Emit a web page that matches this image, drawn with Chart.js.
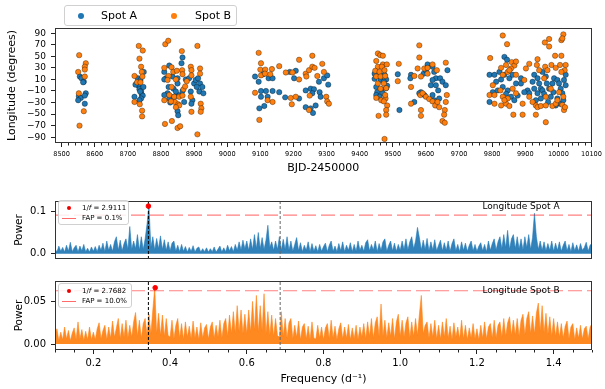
<!DOCTYPE html>
<html>
<head>
<meta charset="utf-8">
<script src="https://cdn.jsdelivr.net/npm/chart.js@4.4.1/dist/chart.umd.min.js"></script>
<style>
  body { margin: 0; background: #fff; font-family: 'DejaVu Sans', sans-serif; }
  #wrap { position: relative; width: 605px; height: 389px; overflow: hidden; }
  .panel { position: absolute; left: 0; width: 605px; }
  .leg { position: absolute; border: 1px solid #d0d0d0; border-radius: 3px; background: rgba(255,255,255,0.85); box-sizing: border-box; }
  .dot { position: absolute; border-radius: 50%; box-sizing: border-box; }
  .txt { position: absolute; white-space: nowrap; color: #000; }
  .lbl { position: absolute; white-space: nowrap; font-size: 9px; color: #000; }
  .seg { position: absolute; height: 0; border-top: 1.2px solid #ff6a6a; }
</style>
</head>
<body>
<div id="wrap">
  <div class="panel" style="top:0;height:179px;"><canvas id="lonChart"></canvas></div>
  <div class="panel" style="top:190px;height:80px;"><canvas id="powA"></canvas></div>
  <div class="panel" style="top:270px;height:119px;"><canvas id="powB"></canvas></div>

  <div class="leg" style="left:64px;top:5px;width:173px;height:21px;">
    <span class="dot" style="left:13px;top:7px;width:6px;height:6px;background:#1f77b4;"></span>
    <span class="txt" style="left:36px;top:0;line-height:19px;font-size:11px;">Spot A</span>
    <span class="dot" style="left:106px;top:7px;width:6px;height:6px;background:#ff7f0e;"></span>
    <span class="txt" style="left:130px;top:0;line-height:19px;font-size:11px;">Spot B</span>
  </div>

  <div class="leg" style="left:58px;top:200px;width:71px;height:25px;">
    <span class="dot" style="left:8px;top:5px;width:4px;height:4px;background:#e00;"></span>
    <span class="txt" style="left:23px;top:2px;line-height:11px;font-size:7px;">1/<i>f</i> = 2.9111</span>
    <span class="seg" style="left:3px;top:17px;width:14px;"></span>
    <span class="txt" style="left:23px;top:12px;line-height:11px;font-size:7px;">FAP = 0.1%</span>
  </div>
  <div class="leg" style="left:58px;top:283px;width:74px;height:25px;">
    <span class="dot" style="left:8px;top:5px;width:4px;height:4px;background:#e00;"></span>
    <span class="txt" style="left:23px;top:2px;line-height:11px;font-size:7px;">1/<i>f</i> = 2.7682</span>
    <span class="seg" style="left:3px;top:17px;width:14px;"></span>
    <span class="txt" style="left:23px;top:12px;line-height:11px;font-size:7px;">FAP = 10.0%</span>
  </div>

  <div class="lbl" style="left:478px;top:200px;width:86px;text-align:center;line-height:12px;">Longitude Spot A</div>
  <div class="lbl" style="left:478px;top:284px;width:86px;text-align:center;line-height:12px;">Longitude Spot B</div>
</div>

<script>
// ---- spot longitudes (BJD-2450000, degrees) ----
const spotA = [
  [8555,15],[8560,12],[8567,6],[8565,5],[8552,-19],[8558,-22],[8573,-14],[8570,-18],[8570,-32],[8550,-26],
  [8730,12],[8738,9],[8727,3],[8732,-1],[8735,-7],[8723,1],[8740,-10],[8742,-16],[8745,-18],[8740,-23],
  [8735,-26],[8720,-20],[8748,23],[8747,-3],[8737,-11],
  [8865,48],[8862,38],[8825,34],[8810,23],[8815,12],[8810,10],[8835,15],[8850,12],[8850,3],[8875,10],
  [8885,12],[8823,-3],[8838,-6],[8820,-14],[8810,-17],[8825,-23],[8853,-17],[8865,-10],[8895,-26],[8890,-11],
  [8850,-45],[8852,-52],[8900,3],[8905,9],[8912,12],[8918,3],[8908,-3],[8916,-11],[8925,-3],[8928,-14],
  [8845,-11],[8840,-20],[8870,-29],[8892,-32],[8828,-30],
  [9084,15],[9095,6],[9109,19],[9125,12],[9137,12],[9102,-10],[9117,-10],[9137,-10],[9157,-12],[9102,-20],
  [9122,-20],[9112,-36],[9097,-40],[9175,-21],[9207,25],[9189,23],[9202,12],[9217,-23],[9237,-9],[9252,-6],
  [9262,-7],[9257,-14],[9277,6],[9292,12],[9302,17],[9305,1],[9279,-12],[9282,-20],[9237,-38],[9252,-40],
  [9259,-48],[9267,-35],
  [9445,20],[9460,19],[9475,18],[9445,11],[9463,9],[9480,10],[9450,-3],[9465,-7],[9480,-5],[9453,-12],
  [9470,-14],[9450,-17],[9460,-20],[9483,-1],[9515,19],[9520,-43],[9473,6],
  [9605,36],[9620,32],[9555,18],[9553,12],[9593,20],[9600,26],[9625,23],[9630,12],[9620,9],[9643,12],
  [9650,6],[9660,0],[9665,26],[9615,0],[9630,0],[9637,-9],[9585,-12],[9595,-17],[9620,-17],[9565,-29],
  [9625,-26],[9640,-23],[9580,-14],
  [9837,49],[9845,44],[9792,18],[9807,18],[9822,23],[9837,18],[9852,12],[9862,18],[9872,3],[9802,-12],
  [9817,-9],[9832,-3],[9847,-9],[9857,-20],[9867,-26],[9792,-29],[9887,12],[9887,3],[9907,-9],[9912,-14],
  [9927,18],[9937,12],[9942,3],[9947,-6],[9937,-14],[9947,-23],[9932,-26],[9952,23],[9962,15],[9965,3],
  [9972,-6],[9977,-20],[9969,-29],[9987,12],[9997,9],[10002,3],[10007,-6],[10012,-14],[10017,9],[10022,0],
  [9997,-23],[10005,-32],[9992,-35],[9982,3],[9927,-6],[9897,-12],[9952,-9],[10022,18],
  [9812,6],[9842,-15],[9877,-18],[9922,6],[9957,-15],[9985,-12],[10015,-26],[9827,10]
];
const spotB = [
  [8553,52],[8573,38],[8570,32],[8570,27],[8550,23],[8570,15],[8552,-14],[8567,-45],[8554,-70],
  [8733,68],[8745,60],[8735,46],[8740,32],[8742,23],[8720,16],[8744,15],[8728,5],[8738,5],[8720,-29],
  [8736,-33],[8743,-44],[8743,-54],
  [8813,71],[8822,77],[8863,59],[8910,68],[8810,30],[8832,31],[8837,23],[8848,25],[8864,26],[8890,32],
  [8892,26],[8918,29],[8918,20],[8823,16],[8865,19],[8892,17],[8820,9],[8845,10],[8832,-3],[8868,-7],
  [8825,-17],[8840,-20],[8855,-20],[8865,-18],[8842,-29],[8810,-26],[8830,-28],[8852,-33],[8890,-20],[8920,-32],
  [8922,-40],[8892,-46],[8920,-46],[8812,-67],[8833,-62],[8850,-74],[8855,-35],[8910,-85],[8845,-38],[8858,-71],
  [8873,-2],[8878,7],
  [9095,56],[9102,38],[9100,27],[9115,27],[9135,28],[9157,33],[9102,17],[9114,20],[9130,19],[9177,22],
  [9197,22],[9217,44],[9217,10],[9237,20],[9247,26],[9257,51],[9257,32],[9264,30],[9272,16],[9287,37],
  [9292,23],[9239,15],[9084,-13],[9122,-26],[9137,-29],[9192,-22],[9207,-20],[9195,-33],[9249,-18],[9247,-43],
  [9299,-20],[9302,-28],[9307,-32],[9097,-60],
  [9455,55],[9462,52],[9470,51],[9450,42],[9470,36],[9482,36],[9455,32],[9467,32],[9447,25],[9460,23],
  [9475,26],[9450,15],[9463,15],[9477,16],[9455,3],[9473,3],[9463,-6],[9480,-5],[9450,-22],[9465,-26],
  [9478,-23],[9483,-35],[9480,-43],[9480,-51],[9457,-53],[9473,-28],[9518,37],[9515,7],[9475,-93],[9477,-17],
  [9580,69],[9580,48],[9595,29],[9605,30],[9620,36],[9633,26],[9660,39],[9575,29],[9585,15],[9605,20],
  [9565,16],[9555,-3],[9555,-32],[9583,-17],[9590,-14],[9600,-20],[9585,-43],[9585,-53],[9610,-24],[9620,-28],
  [9628,-35],[9635,-29],[9640,-38],[9663,-17],[9660,-29],[9657,-43],[9655,-51],[9650,-62],[9657,-65],
  [9832,86],[9845,71],[9959,74],[9972,80],[9972,67],[10009,78],[10015,88],[10012,81],[9794,47],[9937,45],
  [9990,51],[10009,51],[9827,30],[9842,35],[9859,40],[9867,34],[9872,41],[9847,23],[9857,29],[9872,18],
  [9832,18],[9902,29],[9912,37],[9935,35],[9942,26],[9960,32],[9979,35],[9992,30],[10005,35],[10022,35],
  [10019,26],[10009,23],[9897,9],[9957,12],[9802,0],[9792,-17],[9807,-17],[9825,-9],[9832,-20],[9847,-23],
  [9862,-6],[9872,-14],[9827,-35],[9842,-32],[9852,-36],[9892,-32],[9912,-20],[9932,-35],[9937,-38],[9947,-36],
  [9962,-35],[9962,-20],[9982,-36],[9992,-32],[10012,-34],[10017,-43],[10015,-20],[10002,-12],[9864,-51],[9892,-51],
  [9932,-51],[9962,-64],[9807,-32],[9977,-6],
  [9852,26],[9837,-26],[9967,26],[9997,-26],[9922,-29],[10020,-38]
];
const lonTicks = [-90, -70, -50, -30, -10, 10, 30, 50, 70, 90];
const bjdTicks = [8500, 8600, 8700, 8800, 8900, 9000, 9100, 9200, 9300, 9400, 9500, 9600, 9700, 9800, 9900, 10000, 10100];

// ---- periodograms, sampled every 0.005 d^-1 from 0.1 ----
const freqStart = 0.1;
const freqStep = 0.005;
const powerA = [
  0.012,0.004,0.018,0.006,0.015,0.004,0.020,0.006,0.027,0.005,0.014,0.020,0.004,0.018,0.007,0.022,0.005,0.013,0.004,0.016,
  0.006,0.017,0.005,0.020,0.008,0.025,0.005,0.030,0.008,0.022,0.006,0.028,0.040,0.008,0.032,0.007,0.024,0.035,0.010,0.064,
  0.010,0.030,0.012,0.045,0.008,0.040,0.010,0.035,0.070,0.112,0.015,0.040,0.009,0.036,0.012,0.042,0.010,0.033,0.008,0.028,
  0.007,0.025,0.030,0.006,0.020,0.005,0.022,0.006,0.017,0.004,0.015,0.006,0.019,0.004,0.013,0.016,0.004,0.012,0.005,0.014,
  0.004,0.012,0.005,0.016,0.004,0.011,0.018,0.004,0.014,0.005,0.020,0.007,0.017,0.005,0.022,0.008,0.028,0.009,0.032,0.012,
  0.030,0.008,0.035,0.010,0.045,0.012,0.050,0.012,0.038,0.010,0.032,0.067,0.015,0.028,0.008,0.030,0.010,0.040,0.008,0.034,
  0.010,0.040,0.008,0.030,0.006,0.022,0.038,0.007,0.026,0.005,0.020,0.008,0.028,0.005,0.024,0.006,0.019,0.005,0.022,0.006,
  0.017,0.025,0.005,0.020,0.030,0.006,0.018,0.005,0.024,0.007,0.028,0.005,0.020,0.008,0.026,0.005,0.022,0.006,0.030,0.008,
  0.020,0.006,0.026,0.033,0.007,0.022,0.009,0.030,0.005,0.024,0.008,0.028,0.035,0.006,0.020,0.030,0.007,0.025,0.006,0.022,
  0.008,0.030,0.010,0.035,0.009,0.028,0.040,0.012,0.030,0.062,0.038,0.009,0.032,0.010,0.036,0.007,0.028,0.009,0.033,0.007,
  0.020,0.032,0.007,0.026,0.008,0.030,0.006,0.024,0.035,0.007,0.022,0.005,0.028,0.008,0.025,0.006,0.020,0.030,0.007,0.022,
  0.006,0.018,0.026,0.007,0.022,0.005,0.030,0.008,0.024,0.035,0.009,0.028,0.040,0.012,0.045,0.014,0.055,0.010,0.035,0.045,
  0.012,0.040,0.011,0.035,0.009,0.040,0.014,0.045,0.010,0.038,0.095,0.040,0.010,0.030,0.008,0.028,0.007,0.024,0.008,0.030,
  0.006,0.025,0.008,0.028,0.006,0.020,0.030,0.007,0.022,0.005,0.026,0.007,0.021,0.006,0.024,0.008,0.015,0.027,0.006,0.020,
  0.025
];
const powerB = [
  0.010,0.018,0.004,0.014,0.005,0.020,0.006,0.016,0.004,0.013,0.019,0.005,0.026,0.006,0.017,0.004,0.015,0.005,0.020,0.005,
  0.014,0.005,0.018,0.025,0.006,0.016,0.022,0.005,0.020,0.007,0.027,0.008,0.019,0.030,0.006,0.024,0.008,0.028,0.007,0.022,
  0.008,0.026,0.037,0.009,0.028,0.007,0.024,0.030,0.010,0.035,0.012,0.040,0.066,0.012,0.036,0.010,0.034,0.009,0.030,0.010,
  0.008,0.028,0.006,0.022,0.030,0.007,0.024,0.005,0.026,0.008,0.021,0.006,0.027,0.007,0.020,0.005,0.025,0.007,0.019,0.023,
  0.006,0.020,0.026,0.007,0.022,0.008,0.028,0.007,0.024,0.030,0.009,0.034,0.012,0.038,0.012,0.045,0.014,0.040,0.012,0.035,
  0.012,0.040,0.014,0.050,0.016,0.057,0.014,0.045,0.015,0.059,0.012,0.038,0.010,0.034,0.009,0.030,0.010,0.008,0.038,0.009,
  0.030,0.007,0.025,0.030,0.006,0.022,0.008,0.027,0.005,0.020,0.024,0.006,0.021,0.005,0.026,0.007,0.006,0.022,0.007,0.020,
  0.005,0.019,0.024,0.006,0.028,0.007,0.021,0.005,0.018,0.025,0.006,0.020,0.007,0.023,0.005,0.019,0.006,0.022,0.005,0.020,
  0.008,0.024,0.006,0.026,0.009,0.030,0.007,0.025,0.032,0.008,0.047,0.009,0.028,0.007,0.025,0.009,0.030,0.006,0.026,0.035,
  0.009,0.028,0.008,0.025,0.032,0.007,0.026,0.009,0.030,0.010,0.035,0.057,0.012,0.022,0.026,0.007,0.024,0.008,0.028,0.006,
  0.022,0.006,0.026,0.008,0.030,0.007,0.021,0.005,0.025,0.008,0.020,0.006,0.028,0.006,0.022,0.005,0.019,0.007,0.024,0.006,
  0.018,0.005,0.022,0.007,0.026,0.006,0.020,0.024,0.007,0.028,0.007,0.022,0.026,0.008,0.030,0.009,0.025,0.032,0.010,0.028,
  0.010,0.030,0.009,0.028,0.035,0.011,0.030,0.038,0.012,0.033,0.012,0.036,0.048,0.015,0.045,0.013,0.036,0.011,0.032,0.009,
  0.030,0.009,0.026,0.008,0.024,0.007,0.021,0.027,0.006,0.020,0.024,0.005,0.019,0.007,0.022,0.006,0.018,0.021,0.006,0.020,
  0.024
];
const fapA = 0.091;
const fapB = 0.0625;
const peakA = [0.3435, 0.112];
const peakB = [0.3612, 0.066];
const harmonics = [0.3435, 0.687];
const freqTicks = [0.2, 0.4, 0.6, 0.8, 1.0, 1.2, 1.4];

Chart.defaults.font.family = "'DejaVu Sans', sans-serif";
Chart.defaults.color = '#000';
Chart.defaults.animation = false;

// frame on all four sides plus short minor ticks, like matplotlib spines
const framePlugin = {
  id: 'frame',
  afterDatasetsDraw(chart, args, opts) {
    const a = chart.chartArea, ctx = chart.ctx;
    ctx.save();
    ctx.strokeStyle = '#333';
    ctx.lineWidth = 1;
    ctx.strokeRect(Math.round(a.left) + 0.5, Math.round(a.top) + 0.5,
      Math.round(a.right - a.left) - 1, Math.round(a.bottom - a.top) - 1);
    ctx.strokeStyle = '#222';
    (opts.minorX || []).forEach(v => {
      const x = Math.round(chart.scales.x.getPixelForValue(v)) + 0.5;
      ctx.beginPath(); ctx.moveTo(x, a.bottom); ctx.lineTo(x, a.bottom + 2.5); ctx.stroke();
    });
    ctx.restore();
  }
};

function tickGrid() {
  return { drawOnChartArea: false, drawTicks: true, tickLength: 4, color: '#222' };
}
function minus(v) {
  return v < 0 ? '\u2212' + Math.abs(v) : String(v);
}

// top panel: longitude vs time
const bjdMinor = [];
for (let v = 8500; v < 10100; v += 20) if (v % 100 !== 0) bjdMinor.push(v);

new Chart(document.getElementById('lonChart'), {
  type: 'scatter',
  data: {
    datasets: [
      { label: 'Spot B', data: spotB.map(p => ({ x: p[0], y: p[1] })), order: 0,
        backgroundColor: '#ff7f0e', borderColor: 'rgba(0,0,0,0.55)', borderWidth: 0.6, pointRadius: 2.7 },
      { label: 'Spot A', data: spotA.map(p => ({ x: p[0], y: p[1] })), order: 1,
        backgroundColor: '#1f77b4', borderColor: 'rgba(0,0,0,0.55)', borderWidth: 0.6, pointRadius: 2.7 }
    ]
  },
  options: {
    responsive: true, maintainAspectRatio: false, devicePixelRatio: 1,
    layout: { padding: { top: 28, right: 13, left: 0, bottom: 0 } },
    plugins: { legend: { display: false }, tooltip: { enabled: false }, frame: { minorX: bjdMinor } },
    scales: {
      x: {
        type: 'linear', min: 8480, max: 10100,
        afterBuildTicks: s => { s.ticks = bjdTicks.map(v => ({ value: v })); },
        afterFit: s => { s.height = 36; },
        ticks: { font: { size: 6.6 }, padding: 3, maxRotation: 0, minRotation: 0, autoSkip: false, callback: v => String(v) },
        grid: tickGrid(), border: { display: false },
        title: { display: true, text: 'BJD-2450000', font: { size: 11 }, padding: { top: 2, bottom: 4 } }
      },
      y: {
        min: -100, max: 99,
        afterBuildTicks: s => { s.ticks = lonTicks.map(v => ({ value: v })); },
        afterFit: s => { s.width = 55; },
        ticks: { font: { size: 9 }, padding: 5, autoSkip: false, callback: v => minus(v) },
        grid: tickGrid(), border: { display: false },
        title: { display: true, text: 'Longitude (degrees)', font: { size: 11 }, padding: { top: 6, bottom: 0 } }
      }
    }
  },
  plugins: [framePlugin]
});

// periodogram panels
const freqMinor = [];
for (let k = 2; k <= 30; k++) { const v = k * 0.05; if (k % 4 !== 0) freqMinor.push(v); }

function makePower(id, power, color, fap, peak, yMin, yMax, yTicks, digits, showX, padTop, xHeight) {
  const pts = power.map((p, i) => ({ x: freqStart + i * freqStep, y: p }));
  const datasets = [
    { data: [{ x: peak[0], y: peak[1] }], showLine: false, pointRadius: 2.3, pointBackgroundColor: '#f00', pointBorderColor: '#f00', order: 0 },
    { data: [{ x: 0.1, y: fap }, { x: 1.5, y: fap }], borderColor: 'rgba(255,0,0,0.5)', borderWidth: 1.2, borderDash: [14, 5], pointRadius: 0, order: 2 },
    { data: pts, borderColor: color.line, backgroundColor: color.fill, fill: 'origin', borderWidth: 1, pointRadius: 0, tension: 0, order: 3 }
  ];
  harmonics.forEach((f, k) => {
    datasets.push({ data: [{ x: f, y: yMin }, { x: f, y: yMax }], borderColor: k === 0 ? '#000' : '#666',
      borderWidth: 1, borderDash: [3, 2], pointRadius: 0, order: 1 });
  });
  new Chart(document.getElementById(id), {
    type: 'line',
    data: { datasets },
    options: {
      responsive: true, maintainAspectRatio: false, devicePixelRatio: 1,
      layout: { padding: { top: padTop, right: 13, left: 0, bottom: showX ? 0 : 3 } },
      plugins: { legend: { display: false }, tooltip: { enabled: false }, frame: { minorX: showX ? freqMinor : [] } },
      scales: {
        x: {
          type: 'linear', min: 0.1, max: 1.5, display: showX,
          afterBuildTicks: s => { s.ticks = freqTicks.map(v => ({ value: v })); },
          afterFit: s => { s.height = xHeight; },
          ticks: { font: { size: 10 }, padding: 3, maxRotation: 0, autoSkip: false, callback: v => v.toFixed(1) },
          grid: tickGrid(), border: { display: false },
          title: { display: true, text: 'Frequency (d\u207B\u00B9)', font: { size: 11 }, padding: { top: 2, bottom: 3 } }
        },
        y: {
          min: yMin, max: yMax,
          afterBuildTicks: s => { s.ticks = yTicks.map(v => ({ value: v })); },
          afterFit: s => { s.width = 55; },
          ticks: { font: { size: 10 }, padding: 5, autoSkip: false, callback: v => v.toFixed(digits) },
          grid: tickGrid(), border: { display: false },
          title: { display: true, text: 'Power', font: { size: 10.5 }, padding: { top: 13, bottom: 0 } }
        }
      }
    },
    plugins: [framePlugin]
  });
}

makePower('powA', powerA, { line: 'rgba(31,119,180,0.55)', fill: 'rgba(31,119,180,0.92)' },
  fapA, peakA, -0.0123, 0.124, [0, 0.1], 1, false, 7, 0);
makePower('powB', powerB, { line: 'rgba(255,127,14,0.55)', fill: 'rgba(255,127,14,0.92)' },
  fapB, peakB, -0.0069, 0.0739, [0, 0.05], 2, true, 10, 39);
</script>
</body>
</html>
